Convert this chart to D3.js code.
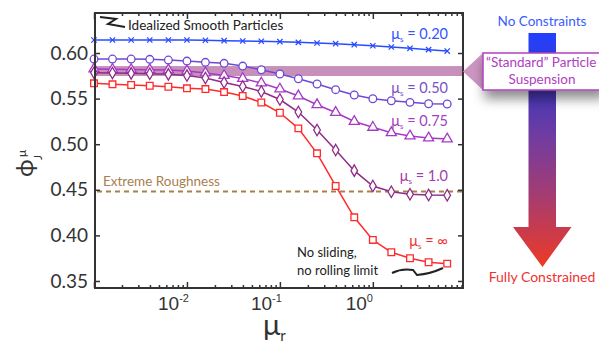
<!DOCTYPE html>
<html>
<head>
<meta charset="utf-8">
<script src="https://cdn.jsdelivr.net/npm/d3@7"></script>
<style>
  body { margin: 0; background: #fff; }
  svg { display: block; font-family: Lato, "DejaVu Sans", sans-serif; }
</style>
</head>
<body>
<svg id="chart" width="599" height="343"></svg>
<script>
// friction values (mu_r)
var muR = [0.001, 0.00158, 0.00251, 0.00398, 0.00631, 0.01, 0.0158, 0.0251, 0.0398, 0.0631,
           0.1, 0.158, 0.251, 0.398, 0.631, 1, 1.58, 2.51, 3.98, 6.31];

// phi_J^mu for each mu_s curve
var phiMs020 = [0.6143, 0.6143, 0.6143, 0.6143, 0.6143, 0.6143, 0.6140, 0.6135, 0.6132, 0.6129,
                0.6124, 0.6117, 0.6110, 0.6102, 0.6091, 0.6080, 0.6066, 0.6052, 0.6037, 0.6022];
var phiMs050 = [0.5934, 0.5934, 0.5934, 0.5931, 0.5923, 0.5912, 0.5898, 0.5887, 0.5857, 0.5817,
                0.5770, 0.5718, 0.5660, 0.5598, 0.5540, 0.5499, 0.5477, 0.5459, 0.5444, 0.5441];
var phiMs075 = [0.5825, 0.5821, 0.5819, 0.5817, 0.5814, 0.5803, 0.5781, 0.5753, 0.5720, 0.5671,
                0.5605, 0.5529, 0.5433, 0.5348, 0.5249, 0.5185, 0.5126, 0.5090, 0.5068, 0.5057];
var phiMs100 = [0.5784, 0.5781, 0.5777, 0.5773, 0.5766, 0.5753, 0.5726, 0.5677, 0.5633, 0.5578,
                0.5490, 0.5353, 0.5156, 0.4936, 0.4710, 0.4542, 0.4479, 0.4451, 0.4443, 0.4440];
var phiMsInf = [0.5668, 0.5657, 0.5649, 0.5641, 0.5630, 0.5613, 0.5605, 0.5572, 0.5529, 0.5457,
                0.5345, 0.5174, 0.4900, 0.4542, 0.4198, 0.3950, 0.3815, 0.3749, 0.3705, 0.3690];

var seriesNames = ["0.20", "0.50", "0.75", "1.0", "\u221e"];
var seriesColors = ["#2a4cff", "#7048d4", "#a63ac6", "#8e2c88", "#ff2b2b"];
var labelColors = ["#3356ff", "#7a50c8", "#a242c0", "#a53ca6", "#f03434"];

var extremeRoughness = 0.448;
var standardBand = [0.5748, 0.5857];

var yTicks = [0.35, 0.40, 0.45, 0.50, 0.55, 0.60];
var xMajor = [0.001, 0.01, 0.1, 1];
var xLabelExp = ["-2", "-1", "0"];

var svg = d3.select("#chart");
var pLeft = 95, pRight = 463, pTop = 13, pBottom = 288;

var x = d3.scaleLog().domain([0.001, Math.pow(10, 0.97)]).range([94, pRight]);
var y = d3.scaleLinear().domain([0.3423, 0.6439]).range([pBottom, pTop]);

var allSeries = [phiMs020, phiMs050, phiMs075, phiMs100, phiMsInf];
var symbols = [d3.symbolTimes, d3.symbolCircle, d3.symbolTriangle, d3.symbolDiamond, d3.symbolSquare];
var symSize = [20, 46, 44, 38, 44];

// standard suspension band (under the curves)
svg.append("rect")
  .attr("x", pLeft).attr("width", pRight - pLeft)
  .attr("y", y(standardBand[1])).attr("height", y(standardBand[0]) - y(standardBand[1]))
  .attr("fill", "#c690bb");

// extreme roughness
svg.append("line")
  .attr("x1", pLeft + 2).attr("x2", pRight)
  .attr("y1", y(extremeRoughness)).attr("y2", y(extremeRoughness))
  .attr("stroke", "#a8804f").attr("stroke-width", 2).attr("stroke-dasharray", "5,4");
svg.append("text").attr("x", 103).attr("y", 186)
  .attr("fill", "#a8804f").style("font-size", "13.5px").text("Extreme Roughness");

var line = d3.line().x(function(d) { return x(d[0]); }).y(function(d) { return y(d[1]); });

allSeries.forEach(function(vals, i) {
  var pts = muR.map(function(m, j) { return [m, vals[j]]; });
  var g = svg.append("g");
  g.append("path").datum(pts).attr("d", line)
    .attr("fill", "none").attr("stroke", seriesColors[i]).attr("stroke-width", 1.5);
  g.selectAll("path.m").data(pts).join("path").attr("class", "m")
    .attr("transform", function(d) { return "translate(" + x(d[0]) + "," + y(d[1]) + ")"; })
    .attr("d", d3.symbol().type(symbols[i]).size(symSize[i]))
    .attr("fill", i == 0 ? "none" : "#fff")
    .attr("stroke", seriesColors[i]).attr("stroke-width", 1.3);
});

// mu_s labels
var labelY = [38.5, 92.5, 125.5, 181, 246];
seriesNames.forEach(function(n, i) {
  var t = svg.append("text").attr("x", 448).attr("y", labelY[i])
    .attr("text-anchor", "end").attr("fill", labelColors[i]).style("font-size", "14.5px");
  t.append("tspan").text("\u03bc");
  t.append("tspan").attr("dy", 3).style("font-size", "8px").text("s");
  t.append("tspan").attr("dy", -3).text(" = " + n);
});

// annotations
svg.append("path").attr("d", "M100,17 L116,19 L108,24 L125,27")
  .attr("fill", "none").attr("stroke", "#222").attr("stroke-width", 2);
svg.append("text").attr("x", 128).attr("y", 30).attr("fill", "#222")
  .style("font-size", "13.5px").text("Idealized Smooth Particles");

svg.append("text").attr("x", 297).attr("y", 257).attr("fill", "#222")
  .style("font-size", "13px").text("No sliding,");
svg.append("text").attr("x", 297).attr("y", 275).attr("fill", "#222")
  .style("font-size", "13px").text("no rolling limit");
svg.append("path").attr("d", "M392,273 Q402,268 413,270 L417,275 Q430,274 443,268")
  .attr("fill", "none").attr("stroke", "#222").attr("stroke-width", 2);

// axes
var yl = svg.append("g").attr("transform", "translate(" + pLeft + ",0)")
  .call(d3.axisLeft(y).tickValues(yTicks).tickSize(-5).tickPadding(7).tickFormat(d3.format(".2f")));
var yr = svg.append("g").attr("transform", "translate(" + pRight + ",0)")
  .call(d3.axisRight(y).tickValues(yTicks).tickSize(-5).tickFormat(""));

var minor = x.ticks().filter(function(v) { return xMajor.indexOf(v) < 0; });
var xb = svg.append("g").attr("transform", "translate(0," + pBottom + ")")
  .call(d3.axisBottom(x).tickValues(xMajor).tickSize(-6).tickFormat(""));
var xbm = svg.append("g").attr("transform", "translate(0," + pBottom + ")")
  .call(d3.axisBottom(x).tickValues(minor).tickSize(-3).tickFormat(""));
var xt = svg.append("g").attr("transform", "translate(0," + pTop + ")")
  .call(d3.axisTop(x).tickValues(xMajor).tickSize(-6).tickFormat(""));
var xtm = svg.append("g").attr("transform", "translate(0," + pTop + ")")
  .call(d3.axisTop(x).tickValues(minor).tickSize(-3).tickFormat(""));

[yl, yr, xb, xbm, xt, xtm].forEach(function(a) {
  a.select(".domain").remove();
  a.selectAll("line").attr("stroke", "#333").attr("stroke-width", 1.5);
  a.selectAll("text").attr("fill", "#333").style("font-size", "19px").style("font-family", "Lato");
});

xb.selectAll(".tick").filter(function(d) { return d > 0.005; }).each(function(d, i) {
  var t = d3.select(this).append("text").attr("x", -14).attr("y", 22)
    .attr("fill", "#333").style("font-size", "19px");
  t.append("tspan").text("10");
  t.append("tspan").attr("dy", -8).style("font-size", "11px").text(xLabelExp[i]);
});

svg.append("rect").attr("x", pLeft).attr("y", pTop)
  .attr("width", pRight - pLeft).attr("height", pBottom - pTop)
  .attr("fill", "none").attr("stroke", "#333").attr("stroke-width", 2);

// axis titles
var xl = svg.append("text").attr("x", 263).attr("y", 335).attr("fill", "#333");
xl.append("tspan").style("font-size", "29px").text("\u03bc");
xl.append("tspan").attr("dy", 6).style("font-size", "15px").text("r");

var ylab = svg.append("g").attr("transform", "translate(33,177) rotate(-90)").attr("fill", "#333");
ylab.append("text").style("font-size", "24px").text("\u03d5");
ylab.append("text").attr("x", 17).attr("y", 9).style("font-size", "12px").text("J");
ylab.append("text").attr("x", 20).attr("y", -7).style("font-size", "12px").text("\u03bc");

// right side: gradient arrow and callout
var defs = svg.append("defs");
var grad = defs.append("linearGradient").attr("id", "arrowGrad")
  .attr("gradientUnits", "userSpaceOnUse").attr("x1", 0).attr("x2", 0).attr("y1", 33).attr("y2", 267);
grad.append("stop").attr("offset", "0%").attr("stop-color", "#2040ff");
grad.append("stop").attr("offset", "30%").attr("stop-color", "#5038b0");
grad.append("stop").attr("offset", "45%").attr("stop-color", "#723ca0");
grad.append("stop").attr("offset", "70%").attr("stop-color", "#a63c70");
grad.append("stop").attr("offset", "100%").attr("stop-color", "#ee3a24");

var shadow = defs.append("filter").attr("id", "shadow")
  .attr("x", "-30%").attr("y", "-30%").attr("width", "160%").attr("height", "220%");
shadow.append("feDropShadow").attr("dx", 2).attr("dy", 8).attr("stdDeviation", 6)
  .attr("flood-color", "#000").attr("flood-opacity", 0.45);

svg.append("path")
  .attr("d", "M528.5,33 L556,33 L556,227 L571.5,227 L542.5,267 L513,227 L528.5,227 Z")
  .attr("fill", "url(#arrowGrad)");

svg.append("text").attr("x", 542).attr("y", 26).attr("text-anchor", "middle")
  .attr("fill", "#3a5cff").style("font-size", "13.5px").text("No Constraints");
svg.append("text").attr("x", 542).attr("y", 282).attr("text-anchor", "middle")
  .attr("fill", "#ee3232").style("font-size", "14px").text("Fully Constrained");

svg.append("path").attr("d", "M463,71.5 L483,53 L483,90 Z").attr("fill", "#cc96c2");
svg.append("rect").attr("x", 483).attr("y", 53).attr("width", 120).attr("height", 37)
  .attr("fill", "#fff").attr("stroke", "#b040c0").attr("stroke-width", 1.5)
  .attr("filter", "url(#shadow)");
svg.append("text").attr("x", 486).attr("y", 67).attr("fill", "#b040c0")
  .style("font-size", "13.5px").text("\u201cStandard\u201d Particle");
svg.append("text").attr("x", 542).attr("y", 84).attr("text-anchor", "middle").attr("fill", "#b040c0")
  .style("font-size", "13.5px").text("Suspension");
</script>
</body>
</html>
